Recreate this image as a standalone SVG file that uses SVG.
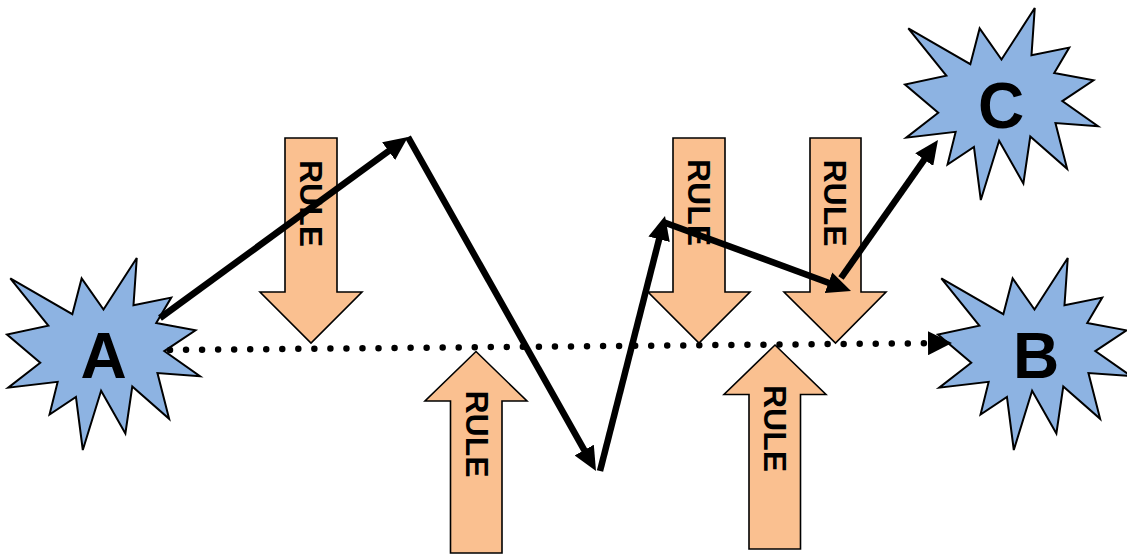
<svg xmlns="http://www.w3.org/2000/svg" width="1127" height="556" viewBox="0 0 1127 556">
<style>
.star{fill:#8DB3E2;stroke:#000;stroke-width:2;stroke-linejoin:miter}
.rule{fill:#FAC090;stroke:#000;stroke-width:1.6;stroke-linejoin:miter}
.lbl{font-family:"Liberation Sans",Arial,sans-serif;font-weight:bold;font-size:64px;text-anchor:middle;fill:#000}
.rtxt{font-family:"Liberation Sans",Arial,sans-serif;font-weight:bold;font-size:32px;text-anchor:middle;fill:#000}
.conn{fill:none;stroke:#000;stroke-width:6.5;marker-end:url(#ah)}
.dots{fill:none;stroke:#000;stroke-width:6.5;stroke-linecap:round;stroke-dasharray:0 16.04;marker-end:url(#ahd)}
</style>
<defs>
<path id="star" d="M96.5,51.56 L129.76,0 L126.48,47.33 L164.23,39.62 L149.24,65.02 L188.51,72.33 L157.32,93.11 L193,118.13 L150.44,115.04 L162.13,160.84 L125.27,128.51 L118.37,175.44 L94.11,132.76 L75.81,192 L68.94,138.91 L42.55,156.6 L50.64,123.88 L1.21,129.66 L33.26,104.67 L0,76.58 L41.34,67.71 L3.31,20.4 L65.33,56.18 L74.63,20.4 Z"/>
<marker id="ah" markerUnits="userSpaceOnUse" markerWidth="24" markerHeight="22" viewBox="0 0 24 22" refX="5" refY="11" orient="auto">
<path d="M0,0 L24,11 L0,22 Z" fill="#000"/>
</marker>
<marker id="ahd" markerUnits="userSpaceOnUse" markerWidth="24" markerHeight="24" viewBox="0 0 22 22" refX="0" refY="11" orient="auto">
<path d="M0,0 L22,11 L0,22 Z" fill="#000"/>
</marker>
</defs>

<g id="rule-down-1">
<polygon class="rule" points="285,138 337,138 337,292 362,292 311,343 260,292 285,292"/>
<text class="rtxt" transform="translate(311,203.5) rotate(90)" y="11.5">RULE</text>
</g>
<g id="rule-down-2">
<polygon class="rule" points="673,138 725,138 725,292 750,292 699,343 648,292 673,292"/>
<text class="rtxt" transform="translate(699,202.5) rotate(90)" y="11.5">RULE</text>
</g>
<g id="rule-down-3">
<polygon class="rule" points="810,138 861,138 861,292 886,292 835.5,343 784,292 810,292"/>
<text class="rtxt" transform="translate(835,203) rotate(90)" y="11.5">RULE</text>
</g>
<g id="rule-up-1">
<polygon class="rule" points="476,351.5 527,401 502,401 502,553 450.5,553 450.5,401 425,401"/>
<text class="rtxt" transform="translate(477,434) rotate(90)" y="11.5">RULE</text>
</g>
<g id="rule-up-2">
<polygon class="rule" points="775,345 826,394.5 800.5,394.5 800.5,549 749,549 749,394.5 724,394.5"/>
<text class="rtxt" transform="translate(775.5,428.5) rotate(90)" y="11.5">RULE</text>
</g>

<g id="node-A">
<use href="#star" class="star" transform="translate(7,258)"/>
<text class="lbl" x="103.5" y="378">A</text>
</g>
<g id="node-B">
<use href="#star" class="star" transform="translate(938,258)"/>
<text class="lbl" x="1036" y="378">B</text>
</g>
<g id="node-C">
<use href="#star" class="star" transform="translate(905,8)"/>
<text class="lbl" x="1001" y="128">C</text>
</g>

<g id="connectors">
<line class="dots" x1="170" y1="350" x2="928" y2="343.2"/>
<line class="conn" x1="160" y1="318" x2="392.65" y2="148.2"/>
<line class="conn" x1="408" y1="137" x2="586.68" y2="454.44"/>
<line class="conn" x1="600" y1="471" x2="660.31" y2="234.41"/>
<line class="conn" x1="663" y1="222" x2="833.16" y2="284.45"/>
<line class="conn" x1="841" y1="278" x2="927.07" y2="155.54"/>
</g>
</svg>
